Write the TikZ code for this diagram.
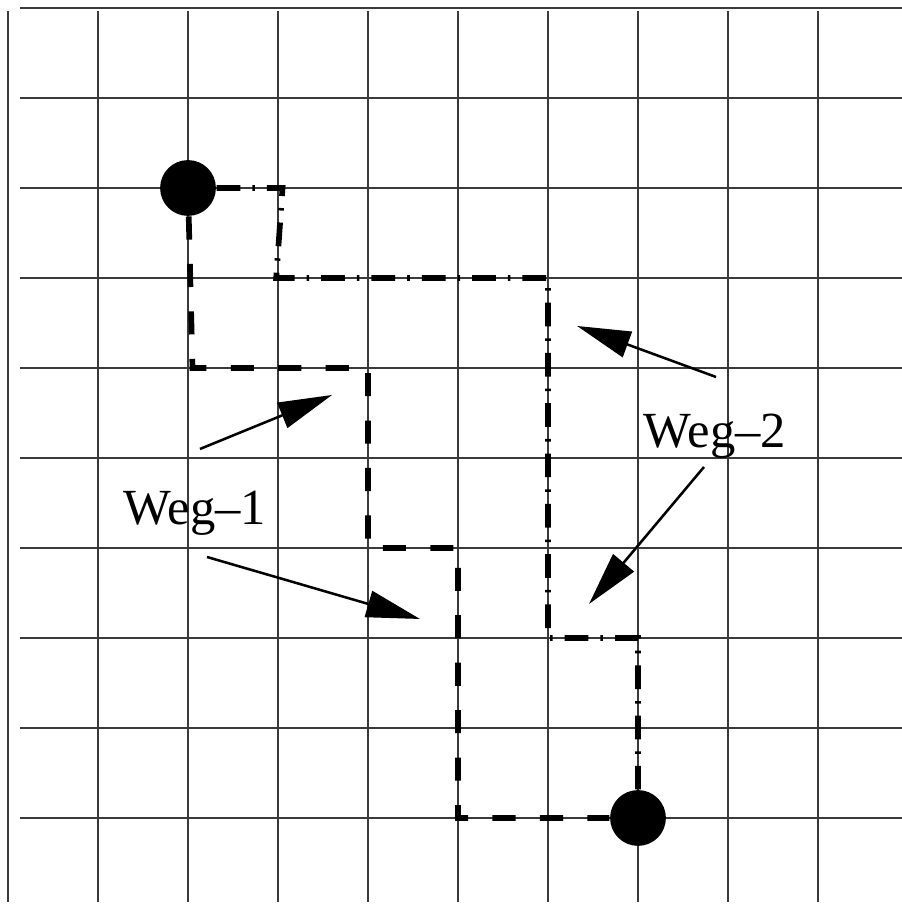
\documentclass[tikz,border=0pt]{standalone}
\usepackage{fontspec}
\setmainfont{Liberation Serif}
\usetikzlibrary{arrows.meta,positioning}
\definecolor{GridGrey}{HTML}{3A3A3A}

\begin{document}
\begin{tikzpicture}[
  gridline/.style={draw=GridGrey, line width=0.6pt},
  wegeins/.style={line width=1.8pt, dash pattern=on 7.3pt off 7.7pt},
  wegzwei/.style={line width=1.8pt, dash pattern=on 7.5pt off 3.8pt on 0.8pt off 3.8pt},
  punkt/.style={circle, fill=black, inner sep=0pt, minimum size=0.62cm},
  weglabel/.style={font=\fontsize{16}{19}\selectfont, inner sep=0pt},
  zeiger/.style={line width=0.8pt, -{Triangle[length=17pt, width=8.5pt]}}
]
  \useasboundingbox (-0.089,-0.978) rectangle (9.933,9.089);

  % grid
  \foreach \x in {0,...,9} \draw[gridline] (\x,-0.933) -- (\x,8.967);
  \foreach \y in {0,...,9} \draw[gridline] (0.133,\y) -- (9.95,\y);

  % start and end points
  \node[punkt] (start) at (2,7) {};
  \node[punkt] (ziel) at (7,0) {};

  % the two paths
  \draw[wegeins] (start) -- (2.05,5) -- (4,5) -- (4,3) -- (5,3) -- (5,0) -- (ziel);
  \draw[wegzwei] (start) -- (3.05,7) -- (2.98,6) -- (6,6) -- (6,2) -- (7,2) -- (ziel);

  % labels
  \node[weglabel, anchor=base] (weg1) at (2.078,3.256) {Weg--1};
  \node[weglabel, anchor=base] (weg2) at (7.856,4.122) {Weg--2};

  \coordinate (w1a) at (2.133,4.1);
  \coordinate (w1b) at (3.6,4.7);
  \coordinate (w1c) at (2.211,2.9);
  \coordinate (w1d) at (4.578,2.211);
  \coordinate (w2a) at (7.867,4.9);
  \coordinate (w2b) at (6.322,5.467);
  \coordinate (w2c) at (7.733,3.9);
  \coordinate (w2d) at (6.456,2.378);

  \draw[zeiger] (w1a) -- (w1b);
  \draw[zeiger] (w1c) -- (w1d);
  \draw[zeiger] (w2a) -- (w2b);
  \draw[zeiger] (w2c) -- (w2d);
\end{tikzpicture}
\end{document}
